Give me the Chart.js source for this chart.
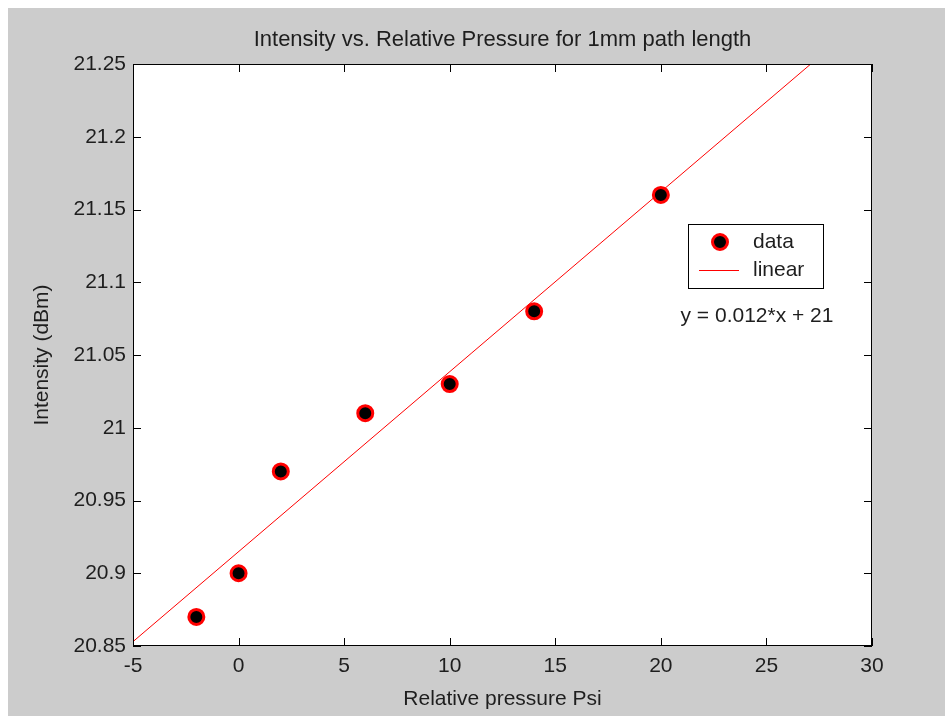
<html>
<head>
  <title>Intensity vs. Relative Pressure</title>
  <script src="https://cdn.jsdelivr.net/npm/chart.js@4.4.0/dist/chart.umd.min.js"></script>
  <style>
    body { margin: 0; background: #ffffff; }
    #figure {
      position: absolute; left: 8px; top: 8px;
      width: 937px; height: 708px;
      background: #cccccc;
    }
  </style>
</head>
<body>
<div id="figure">
  <canvas id="chartCanvas" width="937" height="708"></canvas>
</div>
<script>
// measured points
const pressure  = [-2, 0, 2, 6, 10, 14, 20];
const intensity = [20.87, 20.90, 20.97, 21.01, 21.03, 21.08, 21.16];

// fitted line at its two ends
const fitX = [-5, 27.1];
const fitY = [20.853, 21.25];

const xTicks = [-5, 0, 5, 10, 15, 20, 25, 30];
const yTicks = [20.85, 20.9, 20.95, 21, 21.05, 21.1, 21.15, 21.2, 21.25];

const titleText = 'Intensity vs. Relative Pressure for 1mm path length';
const xLabel = 'Relative pressure Psi';
const yLabel = 'Intensity (dBm)';
const legendNames = ['data', 'linear'];
const equationText = 'y = 0.012*x + 21';

const fontFamily = '"Liberation Sans", Arial, Helvetica, sans-serif';
const textColor = '#1e1e1e';

// white axes background
const axesBackground = {
  id: 'axesBackground',
  beforeDraw(chart) {
    const {ctx, chartArea: a} = chart;
    ctx.save();
    ctx.fillStyle = '#ffffff';
    ctx.fillRect(a.left, a.top, a.width, a.height);
    ctx.restore();
  }
};

// MATLAB style box with inward ticks, title over the axes, legend and the fit equation
const matlabAxes = {
  id: 'matlabAxes',
  afterDraw(chart) {
    const {ctx, chartArea: a, scales: {x, y}} = chart;
    ctx.save();
    ctx.strokeStyle = '#000';
    ctx.lineWidth = 1;
    ctx.strokeRect(a.left + 0.5, a.top + 0.5, a.width - 1, a.height - 1);
    ctx.beginPath();
    xTicks.forEach(v => {
      const px = Math.round(x.getPixelForValue(v)) + 0.5;
      ctx.moveTo(px, a.bottom); ctx.lineTo(px, a.bottom - 8);
      ctx.moveTo(px, a.top);    ctx.lineTo(px, a.top + 8);
    });
    yTicks.forEach(v => {
      const py = Math.round(y.getPixelForValue(v)) + 0.5;
      ctx.moveTo(a.left, py);  ctx.lineTo(a.left + 8, py);
      ctx.moveTo(a.right, py); ctx.lineTo(a.right - 8, py);
    });
    ctx.stroke();

    // title, centred over the axes
    ctx.fillStyle = textColor;
    ctx.font = '22px ' + fontFamily;
    ctx.textAlign = 'center';
    ctx.textBaseline = 'middle';
    ctx.fillText(titleText, (a.left + a.right) / 2, 32);

    // legend box
    ctx.fillStyle = '#ffffff';
    ctx.fillRect(680, 216, 135, 64);
    ctx.strokeStyle = '#000';
    ctx.strokeRect(680.5, 216.5, 135, 64);
    ctx.beginPath();
    ctx.arc(712, 234, 7.5, 0, Math.PI * 2);
    ctx.fillStyle = '#000';
    ctx.fill();
    ctx.lineWidth = 3;
    ctx.strokeStyle = '#ff0000';
    ctx.stroke();
    ctx.lineWidth = 1;
    ctx.beginPath();
    ctx.moveTo(691, 262.5); ctx.lineTo(731, 262.5);
    ctx.stroke();

    ctx.fillStyle = textColor;
    ctx.font = '21px ' + fontFamily;
    ctx.textAlign = 'left';
    ctx.fillText(legendNames[0], 745, 234);
    ctx.fillText(legendNames[1], 745, 262);
    ctx.textAlign = 'center';
    ctx.fillText(equationText, 749, 308);
    ctx.restore();
  }
};

const ctx = document.getElementById('chartCanvas').getContext('2d');
const chart = new Chart(ctx, {
  type: 'scatter',
  data: {
    datasets: [
      {
        label: legendNames[0],
        data: pressure.map((p, i) => ({x: p, y: intensity[i]})),
        pointRadius: 7.5,
        pointHoverRadius: 7.5,
        pointBackgroundColor: '#000000',
        pointBorderColor: '#ff0000',
        pointBorderWidth: 3,
        showLine: false
      },
      {
        label: legendNames[1],
        data: fitX.map((v, i) => ({x: v, y: fitY[i]})),
        showLine: true,
        borderColor: '#ff0000',
        borderWidth: 1,
        pointRadius: 0
      }
    ]
  },
  options: {
    responsive: false,
    animation: false,
    layout: { padding: { left: 0, right: 73, top: 56, bottom: 0 } },
    plugins: {
      legend: { display: false },
      tooltip: { enabled: false },
      title: { display: false }
    },
    scales: {
      x: {
        type: 'linear',
        min: -5, max: 30,
        afterFit: s => { s.height = 70; },
        afterBuildTicks: s => { s.ticks = xTicks.map(v => ({value: v})); },
        grid: { display: false, drawTicks: false },
        border: { display: false },
        ticks: {
          color: textColor,
          padding: 8,
          font: { family: fontFamily, size: 21 }
        },
        title: {
          display: true,
          text: xLabel,
          color: textColor,
          font: { family: fontFamily, size: 21 },
          padding: { top: 0, bottom: 4 }
        }
      },
      y: {
        type: 'linear',
        min: 20.85, max: 21.25,
        afterFit: s => { s.width = 125; },
        afterBuildTicks: s => { s.ticks = yTicks.map(v => ({value: v})); },
        grid: { display: false, drawTicks: false },
        border: { display: false },
        ticks: {
          color: textColor,
          padding: 7,
          font: { family: fontFamily, size: 21 },
          callback: v => String(+Number(v).toFixed(2))
        },
        title: {
          display: true,
          text: yLabel,
          color: textColor,
          font: { family: fontFamily, size: 21 },
          padding: { top: 22, bottom: 0 }
        }
      }
    }
  },
  plugins: [axesBackground, matlabAxes]
});
</script>
</body>
</html>
